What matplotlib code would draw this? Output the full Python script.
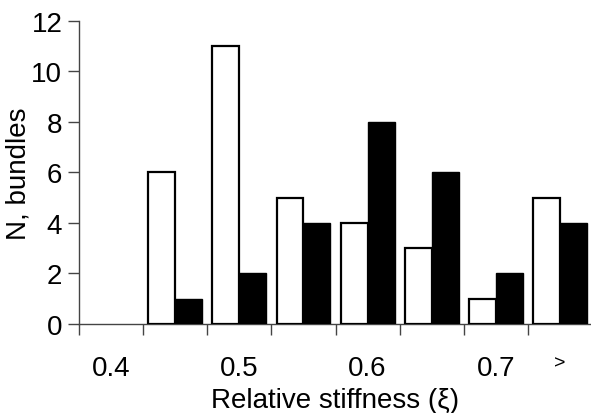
import numpy as np
import matplotlib
matplotlib.use('Agg')
import matplotlib.pyplot as plt

plt.rcParams['font.family'] = ['Liberation Sans', 'DejaVu Sans']

# bins of relative stiffness (last one = ">")
bins = ['0.4', '', '0.5', '', '0.6', '', '0.7', '>']
white_counts = [0, 6, 11, 5, 4, 3, 1, 5]
black_counts = [0, 1, 2, 4, 8, 6, 2, 4]

fig = plt.figure(figsize=(5.91, 4.14), dpi=100)
ax = fig.add_axes([0.1337, 0.215, 0.868, 0.732])

x = np.arange(len(bins))
w = 0.42
white_edges = ['black' if v > 0 else 'none' for v in white_counts]
black_edges = ['black' if v > 0 else 'none' for v in black_counts]
ax.bar(x - w / 2, white_counts, w, color='white', edgecolor=white_edges, linewidth=1.6, zorder=3)
ax.bar(x + w / 2, black_counts, w, color='black', edgecolor=black_edges, linewidth=1.0, zorder=3)

ax.set_xlim(-0.5, 7.5)
ax.set_ylim(0, 12)
ax.set_yticks(range(0, 13, 2))
ax.tick_params(axis='y', labelsize=20, length=8, width=1, color='#444444', pad=4)

# ticks at bin boundaries, labels at bin centres
ax.set_xticks(x - 0.5)
ax.set_xticklabels([])
ax.set_xticks(x, minor=True)
ax.set_xticklabels(bins, minor=True, fontsize=20)
ax.tick_params(axis='x', which='major', length=8, width=1, color='#444444')
ax.tick_params(axis='x', which='minor', length=0, pad=22)
ax.get_xticklabels(minor=True)[-1].set_fontsize(14)

for s in ['top', 'right']:
    ax.spines[s].set_visible(False)
for s in ['left', 'bottom']:
    ax.spines[s].set_color('#444444')
    ax.spines[s].set_linewidth(1)

ax.set_ylabel('N, bundles', fontsize=20, labelpad=0)
ax.set_xlabel('Relative stiffness (ξ)', fontsize=20, labelpad=5)

fig.savefig('out.png', dpi=100)
